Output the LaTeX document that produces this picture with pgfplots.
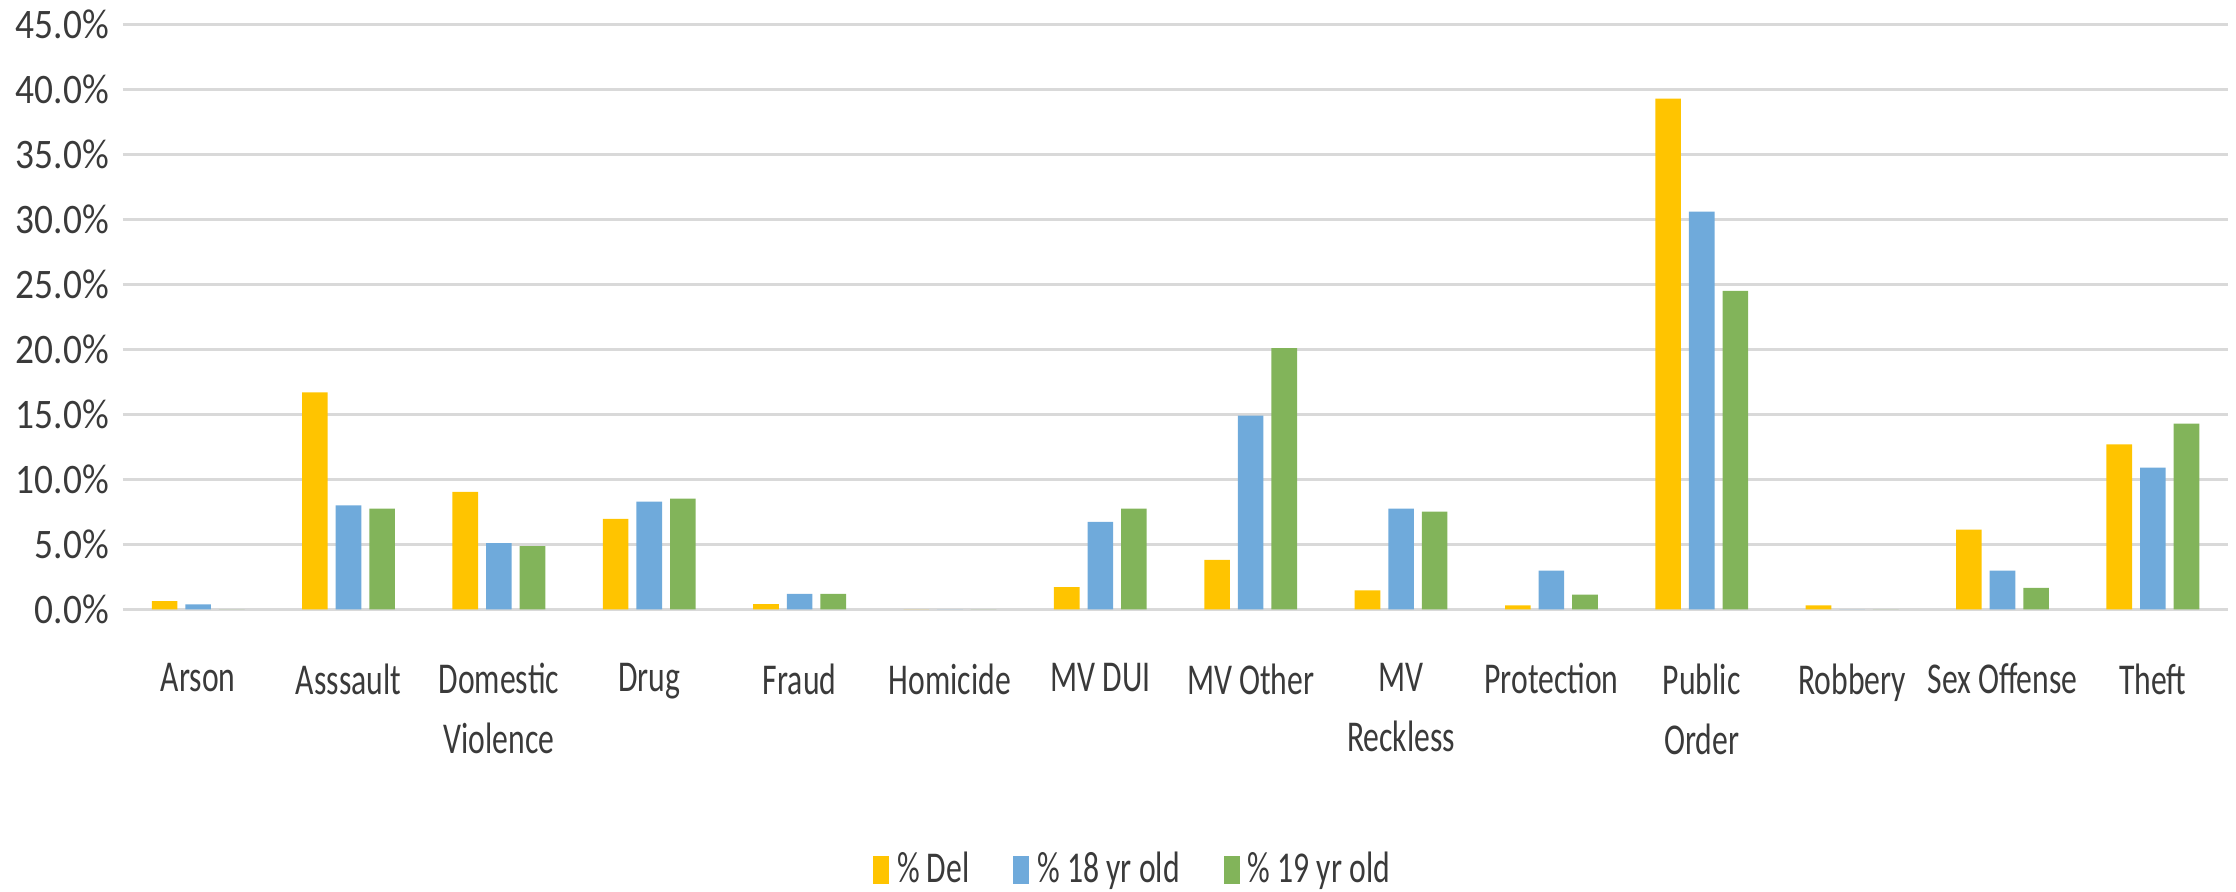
\documentclass[border=0pt]{standalone}
\usepackage{pgfplots}
\pgfplotsset{compat=1.18}
\usepackage{fontspec}
\setmainfont{Carlito}[FakeStretch=0.72]
\newfontfamily\tickfont{Carlito}[FakeStretch=0.89]
\definecolor{cDel}{HTML}{FFC400}
\definecolor{cEi}{HTML}{6FAADB}
\definecolor{cNi}{HTML}{82B45A}
\definecolor{cGrid}{HTML}{D9D9D9}
\definecolor{cText}{HTML}{3A3A3A}
\begin{document}
\begin{tikzpicture}
\begin{axis}[
  name=ax,
  scale only axis,
  width=526.25pt, height=146.25pt,
  ybar, bar width=6.4pt,
  xmin=-0.5, xmax=13.5, ymin=0, ymax=45,
  xtick={0,...,13},
  xticklabels={Arson,Asssault,Domestic\\Violence,Drug,Fraud,Homicide,MV DUI,MV Other,MV\\Reckless,Protection,Public\\Order,Robbery,Sex Offense,Theft},
  ytick={0,5,...,45},
  yticklabels={0.0\%,5.0\%,10.0\%,15.0\%,20.0\%,25.0\%,30.0\%,35.0\%,40.0\%,45.0\%},
  major tick length=0pt,
  axis line style={draw=none},
  ymajorgrids, grid style={cGrid, line width=0.6pt},
  xticklabel style={align=center, font=\fontsize{11}{15}\selectfont, text=cText, anchor=north, yshift=-10pt},
  yticklabel style={font=\fontsize{10.5}{12}\selectfont\tickfont, text=cText},
  legend style={at={(0.481,-0.445)}, anchor=center, draw=none, legend columns=3,
    font=\fontsize{11}{13}\selectfont, text=cText,
    /tikz/every even column/.append style={column sep=9pt}},
  legend image code/.code={\fill[#1] (0pt,-3.5pt) rectangle (4pt,3.5pt);},
]
\addplot[fill=cDel, draw=none, bar shift=-8.4pt] coordinates {
(0,0.64) (1,16.7) (2,9.05) (3,6.96) (4,0.41) (5,0) (6,1.71) (7,3.81) (8,1.46) (9,0.31) (10,39.3) (11,0.31) (12,6.13) (13,12.7)};
\addplot[fill=cEi, draw=none, bar shift=0pt] coordinates {
(0,0.38) (1,8.0) (2,5.1) (3,8.29) (4,1.2) (5,0) (6,6.73) (7,14.9) (8,7.75) (9,2.98) (10,30.6) (11,0) (12,2.98) (13,10.9)};
\addplot[fill=cNi, draw=none, bar shift=8.4pt] coordinates {
(0,0) (1,7.75) (2,4.86) (3,8.52) (4,1.2) (5,0) (6,7.75) (7,20.1) (8,7.52) (9,1.13) (10,24.5) (11,0) (12,1.65) (13,14.3)};
\legend{\% Del,\% 18 yr old,\% 19 yr old}
\end{axis}
\pgfresetboundingbox
\path[use as bounding box] ([shift={(-30.75pt,-70.4pt)}]ax.south west) rectangle ([shift={(2pt,6.1pt)}]ax.north east);
\end{tikzpicture}
\end{document}
